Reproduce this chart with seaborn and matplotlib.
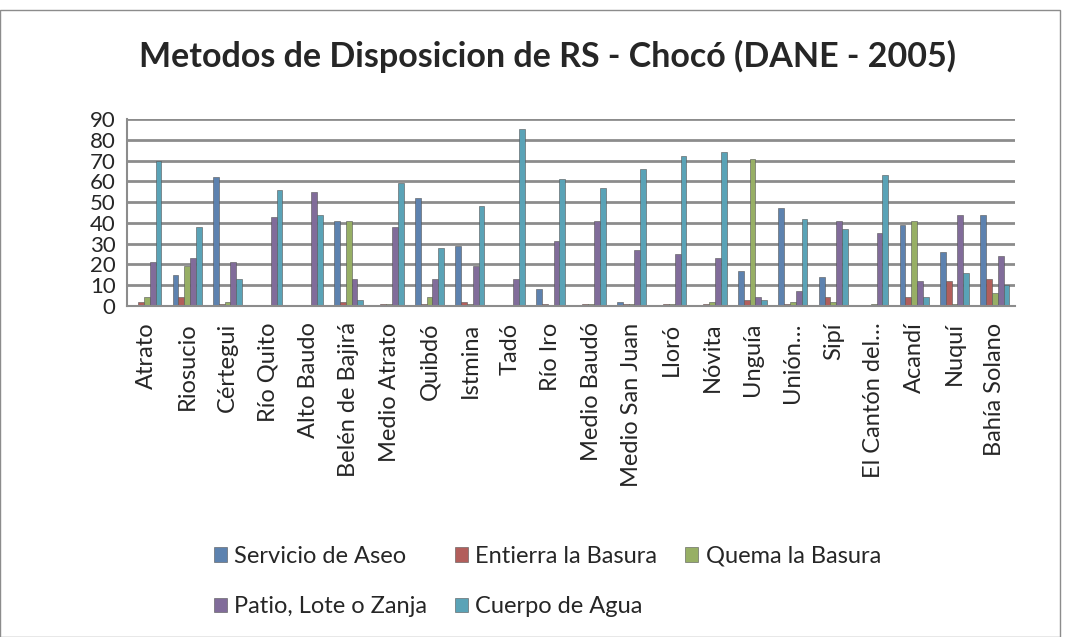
import pandas as pd
import numpy as np
import matplotlib.pyplot as plt
import seaborn as sns
from matplotlib.patches import Rectangle

# Datos (porcentaje de hogares por municipio)
municipios = ['Atrato', 'Riosucio', 'Cértegui', 'Río Quito', 'Alto Baudo',
              'Belén de Bajirá', 'Medio Atrato', 'Quibdó', 'Istmina', 'Tadó',
              'Río Iro', 'Medio Baudó', 'Medio San Juan', 'Lloró', 'Nóvita',
              'Unguía', 'Unión…', 'Sipí', 'El Cantón del…', 'Acandí',
              'Nuquí', 'Bahía Solano']
series = ['Servicio de Aseo', 'Entierra la Basura', 'Quema la Basura',
          'Patio, Lote o Zanja', 'Cuerpo de Agua']

aseo = [0.5, 15, 62, 0.5, 0.5, 41, 0.5, 52, 29, 0.5, 8, 0.5, 2, 0.5, 0.5,
        17, 47, 14, 0.5, 39, 26, 44]
entierra = [2, 4, 1, 0.5, 0.5, 2, 1, 1, 2, 0.5, 1, 1, 1, 1, 1,
            3, 1, 4, 0.5, 4, 12, 13]
quema = [4, 19, 2, 0.5, 0.5, 41, 1, 4, 1, 0.5, 0.5, 1, 1, 1, 2,
         71, 2, 2, 1, 41, 1, 6]
patio = [21, 23, 21, 43, 55, 13, 38, 13, 19, 13, 31, 41, 27, 25, 23,
         4, 7, 41, 35, 12, 44, 24]
cuerpo = [70, 38, 13, 56, 44, 3, 59, 28, 48, 85, 61, 57, 66, 72, 74,
          3, 42, 37, 63, 4, 16, 10]

colores = ['#4F81BD', '#C0504D', '#9BBB59', '#8064A2', '#4BACC6']

df = pd.DataFrame({'Municipio': municipios,
                   series[0]: aseo, series[1]: entierra, series[2]: quema,
                   series[3]: patio, series[4]: cuerpo})
largo = df.melt(id_vars='Municipio', var_name='Metodo', value_name='Valor')

sns.set_style('white')
plt.rcParams['font.family'] = ['Lato', 'DejaVu Sans']

fig = plt.figure(figsize=(10.73, 6.37), dpi=100)
ax = fig.add_axes([0.118, 0.52, 0.828, 0.293])

sns.barplot(data=largo, x='Municipio', y='Valor', hue='Metodo',
            palette=colores, width=0.72, ax=ax, legend=True,
            edgecolor='#555555', linewidth=0.4)

ax.set_ylim(0, 90)
ax.set_yticks(range(0, 91, 10))
ax.set_xlim(-0.5, len(municipios) - 0.5)
ax.yaxis.grid(True, color='#8c8c8c', linewidth=2)
ax.set_axisbelow(True)
for s in ['top', 'right']:
    ax.spines[s].set_visible(False)
ax.spines['left'].set_color('#8c8c8c')
ax.spines['bottom'].set_color('#8c8c8c')
ax.spines['left'].set_linewidth(1.5)
ax.spines['bottom'].set_linewidth(1.5)

ax.set_xlabel('')
ax.set_ylabel('')
ax.set_xticks(np.arange(len(municipios)))
ax.set_xticklabels(municipios, rotation=90, fontsize=17, va='top')
ax.tick_params(axis='x', length=0, pad=12)
ax.set_xticks(np.arange(-0.5, len(municipios)), minor=True)
ax.tick_params(axis='x', which='minor', length=6, color='#8c8c8c', width=1.5)
ax.tick_params(axis='y', labelsize=16, length=6, color='#8c8c8c', pad=2)

h, l = ax.get_legend_handles_labels()
ax.get_legend().remove()
orden = [0, 3, 1, 4, 2]
fig.legend([h[i] for i in orden], [l[i] for i in orden], ncol=3,
           loc='center', bbox_to_anchor=(0.51, 0.087), frameon=False,
           fontsize=17, handlelength=0.55, handleheight=0.55,
           handletextpad=0.3, columnspacing=1.2, labelspacing=1.25)

fig.text(0.51, 0.912, 'Metodos de Disposicion de RS - Chocó (DANE - 2005)',
         ha='center', va='center', fontsize=24.5, fontweight='bold')

fig.patches.append(Rectangle((0.0, 0.0), 0.988, 0.985, transform=fig.transFigure,
                             fill=False, edgecolor='#8c8c8c', linewidth=1))

fig.savefig('out.png', dpi=100)
